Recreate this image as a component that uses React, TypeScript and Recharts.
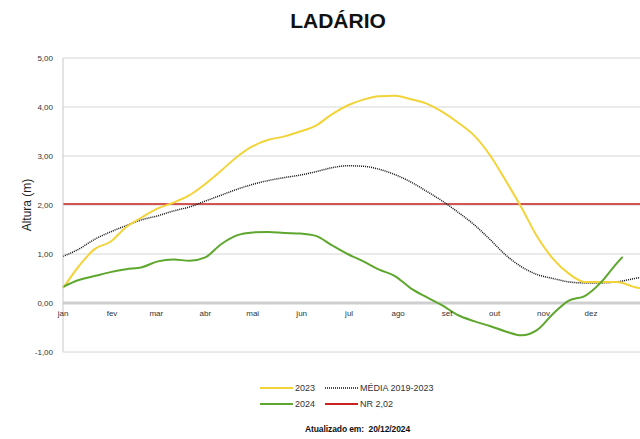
import { LineChart, Line, XAxis, YAxis, CartesianGrid, ReferenceLine } from 'recharts'

// dia do ano (0 = 1º jan)
const days = [0, 10, 20, 30, 40, 50, 60, 70, 80, 90, 100, 110, 120, 130, 140, 150, 160, 170, 180, 190, 200, 210, 220, 230, 240, 250, 260, 270, 280, 290, 300, 310, 320, 330, 340, 350, 354, 360, 365]

const alt2023 = [0.3, 0.75, 1.1, 1.25, 1.55, 1.75, 1.93, 2.05, 2.2, 2.43, 2.7, 2.98, 3.2, 3.33, 3.4, 3.5, 3.62, 3.85, 4.03, 4.15, 4.22, 4.23, 4.16, 4.07, 3.9, 3.68, 3.42, 3.02, 2.5, 1.95, 1.35, 0.9, 0.6, 0.43, 0.43, 0.43, 0.41, 0.34, 0.3]

const media = [0.95, 1.1, 1.3, 1.45, 1.58, 1.7, 1.78, 1.88, 1.96, 2.08, 2.2, 2.32, 2.42, 2.5, 2.56, 2.61, 2.68, 2.76, 2.8, 2.79, 2.73, 2.62, 2.47, 2.28, 2.08, 1.85, 1.6, 1.3, 0.98, 0.74, 0.58, 0.5, 0.43, 0.41, 0.41, 0.43, 0.45, 0.49, 0.52]

const alt2024 = [0.33, 0.47, 0.55, 0.63, 0.69, 0.73, 0.85, 0.89, 0.86, 0.93, 1.2, 1.38, 1.44, 1.45, 1.43, 1.42, 1.37, 1.18, 1.0, 0.85, 0.68, 0.55, 0.3, 0.12, -0.05, -0.25, -0.37, -0.47, -0.58, -0.66, -0.55, -0.22, 0.05, 0.14, 0.41, 0.8, 0.94, null, null]

const nivelReferencia = 2.02

const monthTicks = [0, 31, 59, 90, 120, 151, 181, 212, 243, 273, 304, 334]
const monthLabels = ['jan', 'fev', 'mar', 'abr', 'mai', 'jun', 'jul', 'ago', 'set', 'out', 'nov', 'dez']
const yTicks = [-1, 0, 1, 2, 3, 4, 5]

const chartData = days.map((d, i) => ({
  dia: d,
  '2023': alt2023[i],
  'MÉDIA 2019-2023': media[i],
  '2024': alt2024[i],
}))

const colors = {
  y2023: '#f2d43a',
  media: '#111111',
  y2024: '#5ea72e',
  nr: '#c9211e',
}

const font = '"Liberation Sans", Arial, sans-serif'

// rótulos dos meses ficam logo abaixo da linha do zero, não no fundo do gráfico
const MonthTick = (props: any) => {
  const { x, y, payload } = props
  const idx = monthTicks.indexOf(payload.value)
  return (
    <text x={x} y={y - 44} textAnchor="middle" fontSize={8} fill="#333" fontFamily={font}>
      {monthLabels[idx]}
    </text>
  )
}

// item de legenda posicionado à mão (layout 2x2 como no original)
function LegendItem({ left, top, color, label, dashed }: { left: number; top: number; color: string; label: string; dashed?: boolean }) {
  return (
    <div style={{ position: 'absolute', left, top, display: 'flex', alignItems: 'center', height: 10 }}>
      <svg width={33} height={6} style={{ marginRight: 2, display: 'block' }}>
        <line x1={0} y1={3} x2={33} y2={3} stroke={color} strokeWidth={dashed ? 1.5 : 2} strokeDasharray={dashed ? '1 1' : undefined} />
      </svg>
      <span style={{ fontSize: 9, color: '#333', whiteSpace: 'nowrap' }}>{label}</span>
    </div>
  )
}

export default function App() {
  return (
    <div style={{ position: 'absolute', left: 0, top: 0, width: 640, height: 439, background: '#fff', fontFamily: font, overflow: 'hidden' }}>
      <div style={{ position: 'absolute', left: 0, width: 676, top: 9, textAlign: 'center', fontSize: 21, fontWeight: 'bold', color: '#111' }}>
        LADÁRIO
      </div>
      <div style={{ position: 'absolute', left: 27, top: 205, transform: 'translate(-50%, -50%) rotate(-90deg)', fontSize: 12, color: '#222', whiteSpace: 'nowrap' }}>
        Altura (m)
      </div>
      <div style={{ position: 'absolute', left: 0, top: 0 }}>
        <LineChart width={640} height={370} data={chartData} margin={{ top: 58, right: 0, left: 0, bottom: 8 }}>
          <CartesianGrid horizontal vertical={false} stroke="#d6d6d6" />
          <XAxis
            dataKey="dia"
            type="number"
            domain={[0, 365]}
            ticks={monthTicks}
            tick={<MonthTick />}
            axisLine={false}
            tickLine={false}
            height={10}
            interval={0}
          />
          <YAxis
            type="number"
            domain={[-1, 5]}
            ticks={yTicks}
            width={63}
            tickFormatter={(v: number) => v.toFixed(2).replace('.', ',')}
            tick={{ fontSize: 8, fill: '#333', fontFamily: font }}
            tickLine={false}
            tickMargin={4}
            axisLine={{ stroke: '#c8c8c8' }}
            interval={0}
          />
          <ReferenceLine y={0} stroke="#cfcfcf" strokeWidth={3} />
          <ReferenceLine y={nivelReferencia} stroke={colors.nr} strokeWidth={1.5} />
          <Line type="monotone" dataKey="MÉDIA 2019-2023" stroke={colors.media} strokeWidth={1.5} strokeDasharray="1 1" dot={false} isAnimationActive={false} />
          <Line type="monotone" dataKey="2023" stroke={colors.y2023} strokeWidth={2} dot={false} isAnimationActive={false} />
          <Line type="monotone" dataKey="2024" stroke={colors.y2024} strokeWidth={2} dot={false} isAnimationActive={false} connectNulls={false} />
        </LineChart>
      </div>
      <LegendItem left={260} top={383} color={colors.y2023} label="2023" />
      <LegendItem left={325} top={383} color={colors.media} label="MÉDIA 2019-2023" dashed />
      <LegendItem left={260} top={399} color={colors.y2024} label="2024" />
      <LegendItem left={325} top={399} color={colors.nr} label="NR 2,02" />
      <div style={{ position: 'absolute', left: 305, top: 424, fontSize: 8.5, fontWeight: 'bold', color: '#111', whiteSpace: 'pre', letterSpacing: -0.1 }}>
        Atualizado em:  20/12/2024
      </div>
    </div>
  )
}
